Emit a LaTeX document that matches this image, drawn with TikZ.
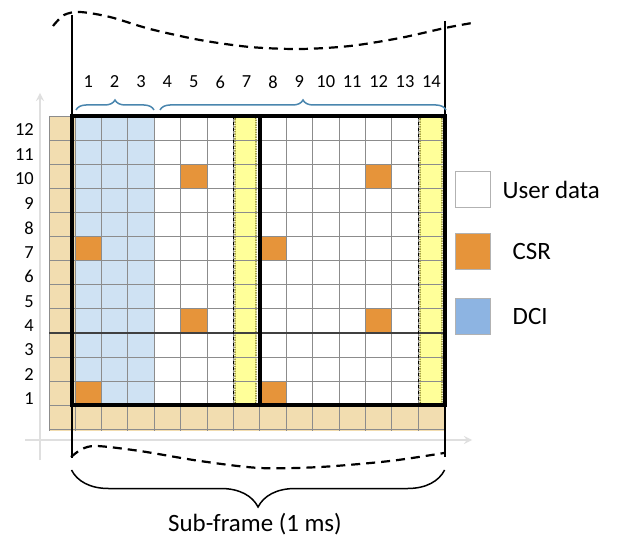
\documentclass[tikz,border=0pt]{standalone}
\usepackage{fontspec}
\setmainfont{Carlito}
\usetikzlibrary{decorations.pathreplacing,positioning,calc}
\definecolor{tanbg}{HTML}{F2DDB0}
\definecolor{dcibg}{HTML}{CFE2F3}
\definecolor{dcikey}{HTML}{8DB4E2}
\definecolor{csrfill}{HTML}{E6943A}
\definecolor{pilot}{HTML}{FFFF99}
\definecolor{bracec}{HTML}{4A86AE}
\tikzstyle{cell}=[rectangle, minimum width=26.4bp, minimum height=24.1bp, inner sep=0pt, anchor=center]
\tikzstyle{key}=[rectangle, minimum width=35bp, minimum height=36bp, inner sep=0pt, draw=gray!60, line width=1bp]
\tikzstyle{annot}=[align=center, inner sep=1bp]
\tikzstyle{num}=[annot, font=\fontsize{18.5}{20}\selectfont]
\tikzstyle{big}=[annot, font=\fontsize{25}{28}\selectfont]
\tikzstyle{axis}=[draw=gray!25, line width=2.5bp, -stealth]
\tikzstyle{edge}=[black, line width=2bp]
\tikzstyle{wave}=[black, line width=2.2bp, dash pattern=on 9bp off 6bp]
\tikzstyle{gridline}=[gray!90, line width=0.9bp]
\tikzstyle{pilotcol}=[fill=pilot, draw=olive!80!black, densely dotted, line width=1.4bp, rounded corners=2bp]
\newcommand{\drawgrid}[0]
{
  \fill[tanbg] (49,116) rectangle (75,431);
  \fill[tanbg] (75,405) rectangle (444.6,431);
  \fill[dcibg] (75,116) rectangle (154.2,405);
  \foreach \c/\r [count=\i] in {1/7,1/1,5/10,5/4,8/7,8/1,12/10,12/4}
    \node[cell, fill=csrfill] (csr\i) at ({75+(\c-0.5)*26.4},{116+(12.5-\r)*24.1}){};
  \draw[pilotcol] (235,117) rectangle (256,404);
  \draw[pilotcol] (420,117) rectangle (442,404);
  \foreach \k in {0,...,14}
    \draw[gridline] (75+\k*26.4,116) -- (75+\k*26.4,431);
  \draw[gridline] (49,116) -- (49,431);
  \foreach \k in {0,...,13}
    \draw[gridline] (49,116+\k*24.1) -- (444.6,116+\k*24.1);
  \draw[black!75, line width=1.3bp] (49,332.9) -- (444.6,332.9);
}

\begin{document}
\begin{tikzpicture}[x=1bp, y=-1bp]
	\useasboundingbox (0,0) rectangle (620,542);

	\draw[axis] (40,460) -- (40,93);
	\draw[axis] (25,440) -- (472,440);

	\drawgrid{}

	\draw[black, line width=1.2bp, dashed] (233.4,116) -- (233.4,405);
	\draw[black, line width=1.2bp, dashed] (418.2,116) -- (418.2,405);
	\draw[black, line width=4bp] (71.5,116) rectangle (444.6,405);
	\draw[black, line width=4bp] (259.8,116) -- (259.8,405);

	\draw[edge] (71.5,15) -- (71.5,458);
	\draw[edge] (444.6,21) -- (444.6,457);
	\draw[wave] plot[smooth] coordinates {(53,26) (64,15) (80,12) (110,17) (150,29) (200,40) (250,47) (300,49) (350,46) (400,38) (445,28) (472,23)};
	\draw[wave] plot[smooth] coordinates {(71,457) (82,449) (97,446) (140,451) (200,461) (260,468) (320,467) (390,461) (444,453)};

	\draw[decorate, decoration={brace, amplitude=10bp}, bracec, line width=1.5bp] (76,110) -- (154,110);
	\draw[decorate, decoration={brace, amplitude=10bp}, bracec, line width=1.5bp] (160,110) -- (446,110);
	\draw[decorate, decoration={brace, amplitude=37bp, mirror}, black, line width=1.5bp] (71.5,470) -- (444.6,470);

	\foreach \c in {1,...,14}
	  \node[num] (col\c) at ({75+(\c-0.5)*26.4},82) {\c};
	\foreach \r in {1,...,12}
	  \node[num, anchor=east] (row\r) at (35,{130+(12-\r)*24.45}) {\r};

	\node[key, fill=white] (keyuser) at (472.5,190) {};
	\node[big, right=11bp of keyuser] (txtuser) {User data};
	\node[key, fill=csrfill] (keycsr) at (472.5,251.5) {};
	\node[big, right=21bp of keycsr] (txtcsr) {CSR};
	\node[key, fill=dcikey] (keydci) at (472.5,316.5) {};
	\node[big, right=21bp of keydci] (txtdci) {DCI};

	\node[big] (subframe) at (255,524) {Sub-frame (1 ms)};
\end{tikzpicture}
\end{document}
